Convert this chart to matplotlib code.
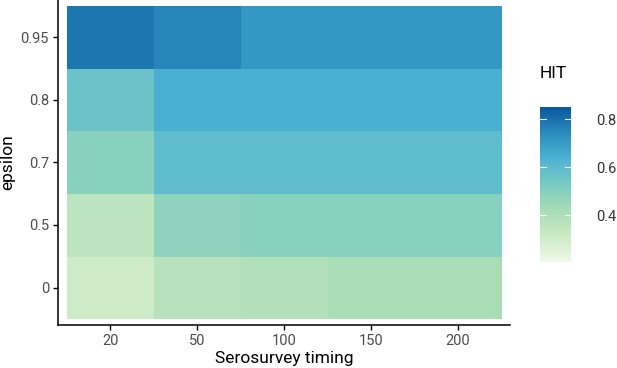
import matplotlib
matplotlib.use("Agg")
import matplotlib.pyplot as plt
from matplotlib.colors import LinearSegmentedColormap, Normalize
import numpy as np

plt.rcParams['font.family'] = ['Roboto', 'DejaVu Sans']

# data (rows = epsilon, cols = serosurvey timing)
timing = ["20", "50", "100", "150", "200"]
epsilon = ["0", "0.5", "0.7", "0.8", "0.95"]
hit = [
    [0.31, 0.375, 0.39, 0.42, 0.42],    # eps 0
    [0.36, 0.48, 0.495, 0.495, 0.495],  # eps 0.5
    [0.495, 0.595, 0.595, 0.595, 0.595],# eps 0.7
    [0.565, 0.645, 0.645, 0.645, 0.645],# eps 0.8
    [0.785, 0.755, 0.71, 0.71, 0.71],   # eps 0.95
]
hit_min, hit_max = 0.205, 0.85

gnbu = ["#f0f9e8", "#ccebc5", "#a8ddb5", "#7bccc4", "#4eb3d3", "#2b8cbe", "#08589e"]
cmap = LinearSegmentedColormap.from_list("gnbu7", gnbu)
norm = Normalize(hit_min, hit_max)

fig = plt.figure(figsize=(6.17, 3.68), dpi=100)
ax = fig.add_axes([58/617, 43/368, 452/617, 325/368])

vals = np.array(hit)
ax.imshow(vals, cmap=cmap, norm=norm, origin="lower", aspect="auto",
          extent=(-0.5, len(timing) - 0.5, -0.5, len(epsilon) - 0.5),
          interpolation="nearest")

ax.set_xlim(-0.6, len(timing) - 0.4)
ax.set_ylim(-0.6, len(epsilon) - 0.4)
ax.set_xticks(range(len(timing)))
ax.set_xticklabels(timing)
ax.set_yticks(range(len(epsilon)))
ax.set_yticklabels(epsilon)
for s in ["top", "right"]:
    ax.spines[s].set_visible(False)
for s in ["left", "bottom"]:
    ax.spines[s].set_linewidth(1.1)
ax.tick_params(length=3.5, width=1.0, colors="black", labelcolor="#4d4d4d",
               labelsize=10.5, pad=3)
ax.set_xlabel("Serosurvey timing", fontsize=12.5, labelpad=2)
ax.set_ylabel("epsilon", fontsize=12.5, labelpad=4)

# colour bar
cax = fig.add_axes([540/617, (368-262)/368, 31/617, 155/368])
grad = np.linspace(hit_min, hit_max, 256).reshape(-1, 1)
cax.imshow(grad, cmap=cmap, norm=norm, origin="lower", aspect="auto",
           extent=(0, 1, hit_min, hit_max))
cax.set_xlim(0, 1)
cax.set_ylim(hit_min, hit_max)
cax.set_xticks([])
cb_ticks = [0.4, 0.6, 0.8]
for t in cb_ticks:
    cax.plot([0, 0.2], [t, t], color="white", lw=0.8)
    cax.plot([0.8, 1], [t, t], color="white", lw=0.8)
cax.yaxis.tick_right()
cax.set_yticks(cb_ticks)
cax.set_yticklabels(["0.4", "0.6", "0.8"])
cax.tick_params(axis="y", length=0, pad=18, labelsize=10.5, labelcolor="#333333")
for s in cax.spines.values():
    s.set_visible(False)
fig.text(540/617, 1 - 73/368, "HIT", fontsize=12.5, va="center", ha="left")

fig.savefig("out.png", dpi=100)
